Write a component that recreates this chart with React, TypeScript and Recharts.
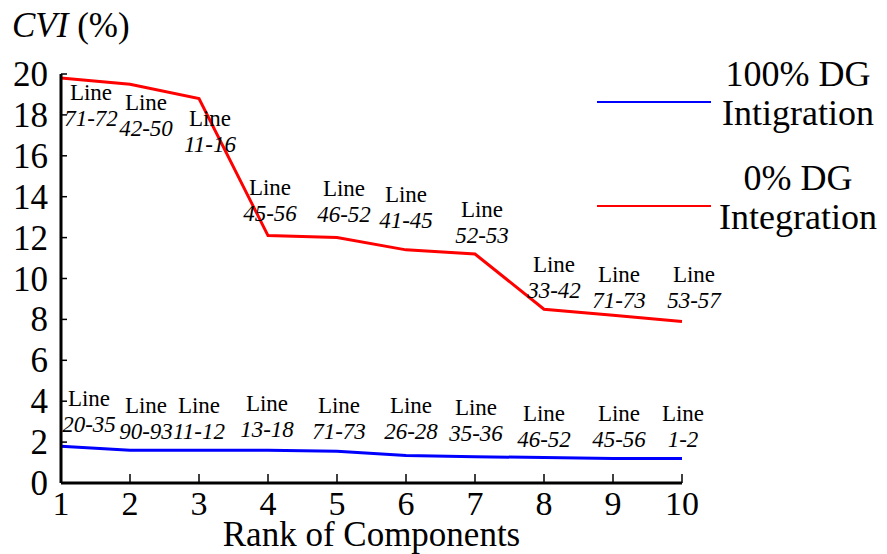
import { LabelList, Legend, Line, LineChart, XAxis, YAxis } from "recharts";

const ranks = [1, 2, 3, 4, 5, 6, 7, 8, 9, 10];
const fullDgCvi = [1.8, 1.6, 1.6, 1.6, 1.55, 1.35, 1.28, 1.25, 1.2, 1.2];
const noDgCvi = [19.8, 19.5, 18.8, 12.1, 12.0, 11.4, 11.2, 8.5, 8.2, 7.9];
const fullDgLines = ["20-35", "90-93", "11-12", "13-18", "71-73", "26-28", "35-36", "46-52", "45-56", "1-2"];
const noDgLines = ["71-72", "42-50", "11-16", "45-56", "46-52", "41-45", "52-53", "33-42", "71-73", "53-57"];
const yTicks = [0, 2, 4, 6, 8, 10, 12, 14, 16, 18, 20];
const seriesNames = ["100% DG Intigration", "0% DG Integration"];

const data = ranks.map((rank, i) => ({
  rank,
  fullDg: fullDgCvi[i],
  noDg: noDgCvi[i],
  fullDgLine: fullDgLines[i],
  noDgLine: noDgLines[i],
}));

const FONT = '"Liberation Serif", "Times New Roman", serif';

// where each tag sits relative to its point: [dx, dy to the "Line" word]
const fullDgShift = [
  [28, -48], [16, -45], [0, -45], [-1, -47], [2, -46],
  [5, -50], [1, -49], [0, -44], [6, -45], [1, -45],
];
const noDgShift = [
  [30, 14], [16, 18], [11, 20], [2, -48], [7, -49],
  [0, -55], [7, -44], [10, -45], [6, -41], [12, -47],
];

function makeTag(shift: number[][]) {
  return (props: any) => {
    const x = props.x ?? props.viewBox?.x;
    const y = props.y ?? props.viewBox?.y;
    const [dx, dy] = shift[props.index] ?? [0, 0];
    return (
      <g>
        <text x={x + dx} y={y + dy} textAnchor="middle" dominantBaseline="central"
          fontSize={23} fontFamily={FONT} fill="#000">
          Line
        </text>
        <text x={x + dx} y={y + dy + 26} textAnchor="middle" dominantBaseline="central"
          fontSize={23} fontStyle="italic" fontFamily={FONT} fill="#000">
          {props.value}
        </text>
      </g>
    );
  };
}

function YTick({ x, y, payload }: any) {
  return (
    <g>
      {payload.value !== 0 && (
        <line x1={x} x2={x + 6} y1={y} y2={y} stroke="#000" strokeWidth={1.5} />
      )}
      <text x={x - 13} y={y + 12} textAnchor="end" fontSize={35} fontFamily={FONT} fill="#000">
        {payload.value}
      </text>
    </g>
  );
}

function XTick({ x, y, payload }: any) {
  return (
    <g>
      {payload.value !== 1 && (
        <line x1={x} x2={x} y1={y} y2={y - 9} stroke="#000" strokeWidth={1.5} />
      )}
      <text x={x} y={y + 32} textAnchor="middle" fontSize={34} fontFamily={FONT} fill="#000">
        {payload.value}
      </text>
    </g>
  );
}

function renderLegend(props: any) {
  const items = [...(props.payload ?? [])].sort(
    (a: any, b: any) => seriesNames.indexOf(a.value) - seriesNames.indexOf(b.value)
  );
  return (
    <svg width={300} height={200}>
      {items.map((item: any, i: number) => {
        const top = i * 104;
        const words = String(item.value).split(" ");
        return (
          <g key={i}>
            <line x1={7} x2={121} y1={top + 52} y2={top + 52} stroke={item.color} strokeWidth={2} />
            <text x={208} y={top + 36} textAnchor="middle" fontSize={36} fontFamily={FONT} fill="#000">
              {words.slice(0, 2).join(" ")}
            </text>
            <text x={208} y={top + 75} textAnchor="middle" fontSize={36} fontFamily={FONT} fill="#000">
              {words.slice(2).join(" ")}
            </text>
          </g>
        );
      })}
    </svg>
  );
}

export default function App() {
  return (
    <div style={{ position: "absolute", left: 0, top: 0, width: 887, height: 554, background: "#fff" }}>
      <div style={{ position: "absolute", left: 12, top: 6, fontFamily: FONT, fontSize: 35, lineHeight: "40px", zIndex: 2 }}>
        <i>CVI</i> (%)
      </div>
      <LineChart width={887} height={554} data={data} margin={{ top: 74, right: 205, bottom: 0, left: 6 }}>
        <XAxis
          dataKey="rank"
          type="number"
          domain={[1, 10]}
          ticks={ranks}
          height={71}
          tickSize={0}
          tickMargin={0}
          tickLine={false}
          tick={XTick}
          axisLine={{ stroke: "#000", strokeWidth: 3 }}
          label={{ value: "Rank of Components", position: "insideBottom", offset: 8, fontSize: 35, fill: "#000", fontFamily: FONT }}
        />
        <YAxis
          type="number"
          domain={[0, 20]}
          ticks={yTicks}
          width={55}
          tickSize={0}
          tickMargin={0}
          tickLine={false}
          tick={YTick}
          axisLine={{ stroke: "#000", strokeWidth: 3 }}
        />
        <Legend
          layout="horizontal"
          verticalAlign="middle"
          align="center"
          content={renderLegend}
          wrapperStyle={{ left: 590, top: 50, width: 300, height: 200 }}
        />
        <Line dataKey="fullDg" name={seriesNames[0]} stroke="#0000ff" strokeWidth={3} dot={false} isAnimationActive={false}>
          <LabelList dataKey="fullDgLine" content={makeTag(fullDgShift)} />
        </Line>
        <Line dataKey="noDg" name={seriesNames[1]} stroke="#ff0000" strokeWidth={3} dot={false} isAnimationActive={false}>
          <LabelList dataKey="noDgLine" content={makeTag(noDgShift)} />
        </Line>
      </LineChart>
    </div>
  );
}
